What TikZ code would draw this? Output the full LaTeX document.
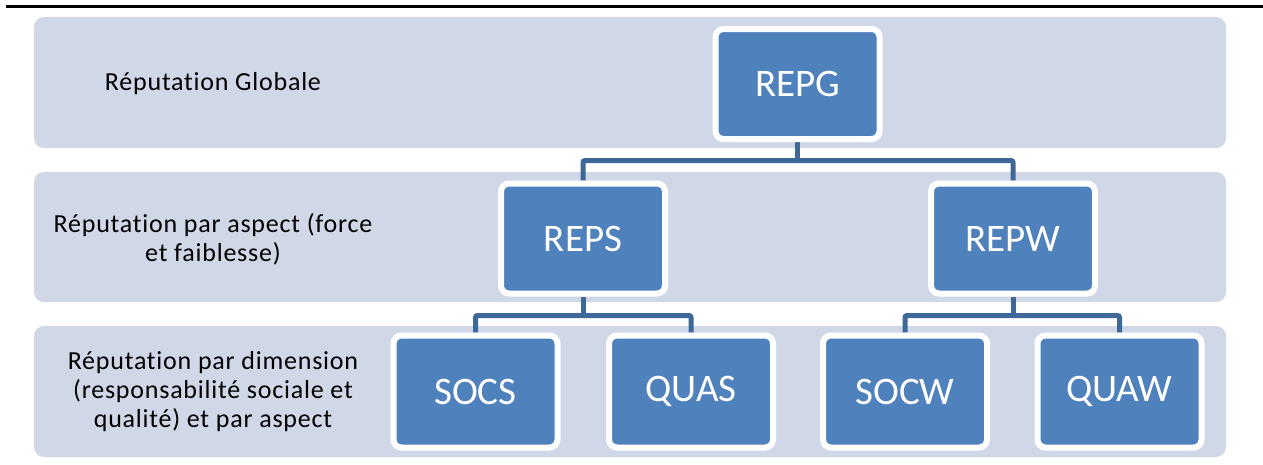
\documentclass[tikz,border=0pt]{standalone}
\usepackage{fontspec}
\setmainfont{Carlito}[Ligatures=NoCommon]
\newfontfamily\lblfont{Carlito}[Ligatures=NoCommon,LetterSpace=3]
\definecolor{bandfill}{HTML}{D0D8E8}
\definecolor{boxfill}{HTML}{4F81BD}
\definecolor{connc}{HTML}{3E6898}
\pgfdeclarelayer{bands}
\pgfdeclarelayer{lines}
\pgfsetlayers{bands,lines,main}
\tikzset{
  band/.style={fill=bandfill, rounded corners=10pt},
  lbl/.style={align=center, text=black, font=\lblfont\fontsize{26}{29}\selectfont, inner sep=0pt},
  boxn/.style={rectangle, rounded corners=8pt, fill=boxfill, draw=white, line width=6pt,
    minimum width=164pt, minimum height=110pt, text=white, font=\fontsize{39}{44}\selectfont, inner sep=0pt},
  conn/.style={draw=connc, line width=5pt, rounded corners=2pt}
}
\begin{document}
\begin{tikzpicture}[x=1pt,y=-1pt]
\useasboundingbox (0,0) rectangle (1263,464);
\draw[line width=3pt, black] (6,6.5) -- (1263,6.5);
\begin{pgfonlayer}{bands}
\fill[band] (34,17) rectangle (1226,148);
\fill[band] (34,172) rectangle (1226,302);
\fill[band] (34,326) rectangle (1226,457);
\end{pgfonlayer}
\node[lbl] (l1) at (213,84) {Réputation Globale};
\node[lbl] (l2) at (213,239) {Réputation par aspect (force\\et faiblesse)};
\node[lbl] (l3) at (213,392) {Réputation par dimension\\(responsabilité sociale et\\qualité) et par aspect};
\node[boxn] (REPG) at (797.5,84) {REPG};
\node[boxn] (REPS) at (583,238.5) {REPS};
\node[boxn] (REPW) at (1013,238.5) {REPW};
\node[boxn, minimum height=112pt] (SOCS) at (475.5,391.5) {SOCS};
\node[boxn, minimum height=112pt] (QUAS) at (691,391.5) {QUAS};
\node[boxn, minimum height=112pt] (SOCW) at (905,391.5) {SOCW};
\node[boxn, minimum height=112pt] (QUAW) at (1119.5,391.5) {QUAW};
\coordinate (h1) at (797.5,160.5);
\coordinate (h2) at (583,315.5);
\coordinate (h3) at (1013,315.5);
\begin{pgfonlayer}{lines}
\draw[conn] (REPG.south) -- (h1);
\draw[conn] (REPS.north) |- (h1) -| (REPW.north);
\draw[conn] (REPS.south) -- (h2);
\draw[conn] (SOCS.north) |- (h2) -| (QUAS.north);
\draw[conn] (REPW.south) -- (h3);
\draw[conn] (SOCW.north) |- (h3) -| (QUAW.north);
\end{pgfonlayer}
\end{tikzpicture}
\end{document}
